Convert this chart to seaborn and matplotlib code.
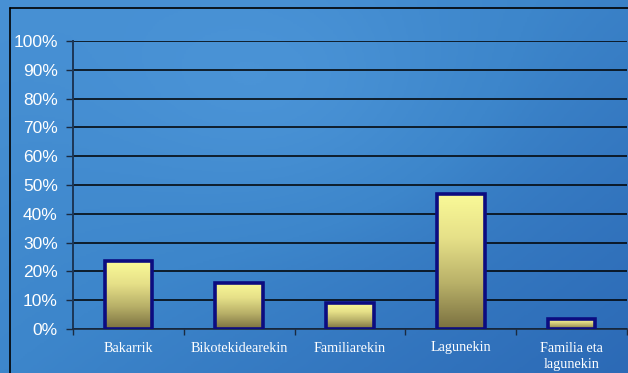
import numpy as np
import pandas as pd
import matplotlib
matplotlib.use("Agg")
import matplotlib.pyplot as plt
from matplotlib.colors import LinearSegmentedColormap
import seaborn as sns

# Who people live with (share of respondents)
categories = ["Bakarrik", "Bikotekidearekin", "Familiarekin", "Lagunekin", "Familia eta\nlagunekin"]
shares = [0.235, 0.16, 0.09, 0.47, 0.035]
y_ticks = [0.0, 0.1, 0.2, 0.3, 0.4, 0.5, 0.6, 0.7, 0.8, 0.9, 1.0]
y_tick_labels = ["0%", "10%", "20%", "30%", "40%", "50%", "60%", "70%", "80%", "90%", "100%"]

df = pd.DataFrame({"category": categories, "share": shares})

sns.set_theme(style="white")
plt.rcParams["font.family"] = ["Liberation Sans", "DejaVu Sans"]

W, H = 628, 373
fig = plt.figure(figsize=(W / 100, H / 100), dpi=100)

# Blue slide background with a soft diagonal gradient
bg = fig.add_axes([0, 0, 1, 1], zorder=0)
yy, xx = np.mgrid[0:1:200j, 0:1:300j]
shade = 0.5 * xx + 0.4 * yy - 0.4 * np.exp(-((xx - 0.45) ** 2 / 0.08 + (yy - 0.25) ** 2 / 0.1))
bg_cmap = LinearSegmentedColormap.from_list("bg", ["#4a93d6", "#3d86cb", "#2c6ab6"])
bg.imshow(shade, cmap=bg_cmap, aspect="auto", extent=[0, 1, 0, 1], origin="upper")
bg.set_xlim(0, 1)
bg.set_ylim(0, 1)
bg.axis("off")
# Outer frame lines
bg.plot([10 / W, 10 / W], [0, 1 - 8 / H], color="black", lw=1.2)
bg.plot([10 / W, 1], [1 - 8 / H, 1 - 8 / H], color="black", lw=1.2)

ax = fig.add_axes([73 / W, 1 - 329 / H, 554 / W, 288 / H], zorder=1)
ax.patch.set_alpha(0)

sns.barplot(data=df, x="category", y="share", ax=ax, width=0.43,
            color="#f8f890", edgecolor="#0c0c80", linewidth=2.6, zorder=3)

bar_cmap = LinearSegmentedColormap.from_list("bar", ["#fafa98", "#e6e088", "#b8b068", "#7a7040"])
grad = np.linspace(0, 1, 256).reshape(-1, 1)
for patch in ax.patches:
    x0, y0 = patch.get_x(), patch.get_y()
    w, h = patch.get_width(), patch.get_height()
    im = ax.imshow(grad, cmap=bar_cmap, aspect="auto", origin="upper",
                   extent=[x0, x0 + w, y0, y0 + h], zorder=3.5)
    im.set_clip_path(patch)
    patch.set_facecolor("none")
    patch.set_zorder(4)

ax.set_xlim(-0.5, len(categories) - 0.5)
ax.set_ylim(0, 1)
ax.set_yticks(y_ticks)
ax.set_yticklabels(y_tick_labels, color="white", fontsize=12.5)
for y in y_ticks:
    ax.axhline(y, color="black", lw=1.1, zorder=1)

ax.set_xticks(range(len(categories)))
ax.set_xticklabels(categories, color="white", fontsize=10.2,
                   family=["Liberation Serif", "DejaVu Serif"], linespacing=1.35)
ax.set_xticks(np.arange(-0.5, len(categories), 1.0), minor=True)
ax.tick_params(axis="x", which="major", length=0, pad=9)
ax.tick_params(axis="x", which="minor", length=4, width=1, color="#1a2a40", direction="out", bottom=True)
ax.tick_params(axis="y", length=5, width=1, color="#1a2a40", direction="out", left=True, pad=6)

ax.set_xlabel("")
ax.set_ylabel("")
for side in ["top", "right"]:
    ax.spines[side].set_visible(False)
ax.spines["left"].set_color("#1c3656")
ax.spines["left"].set_linewidth(1.4)
ax.spines["bottom"].set_color("#1a2a40")
ax.spines["bottom"].set_linewidth(1.2)

fig.savefig("out.png", dpi=100)
